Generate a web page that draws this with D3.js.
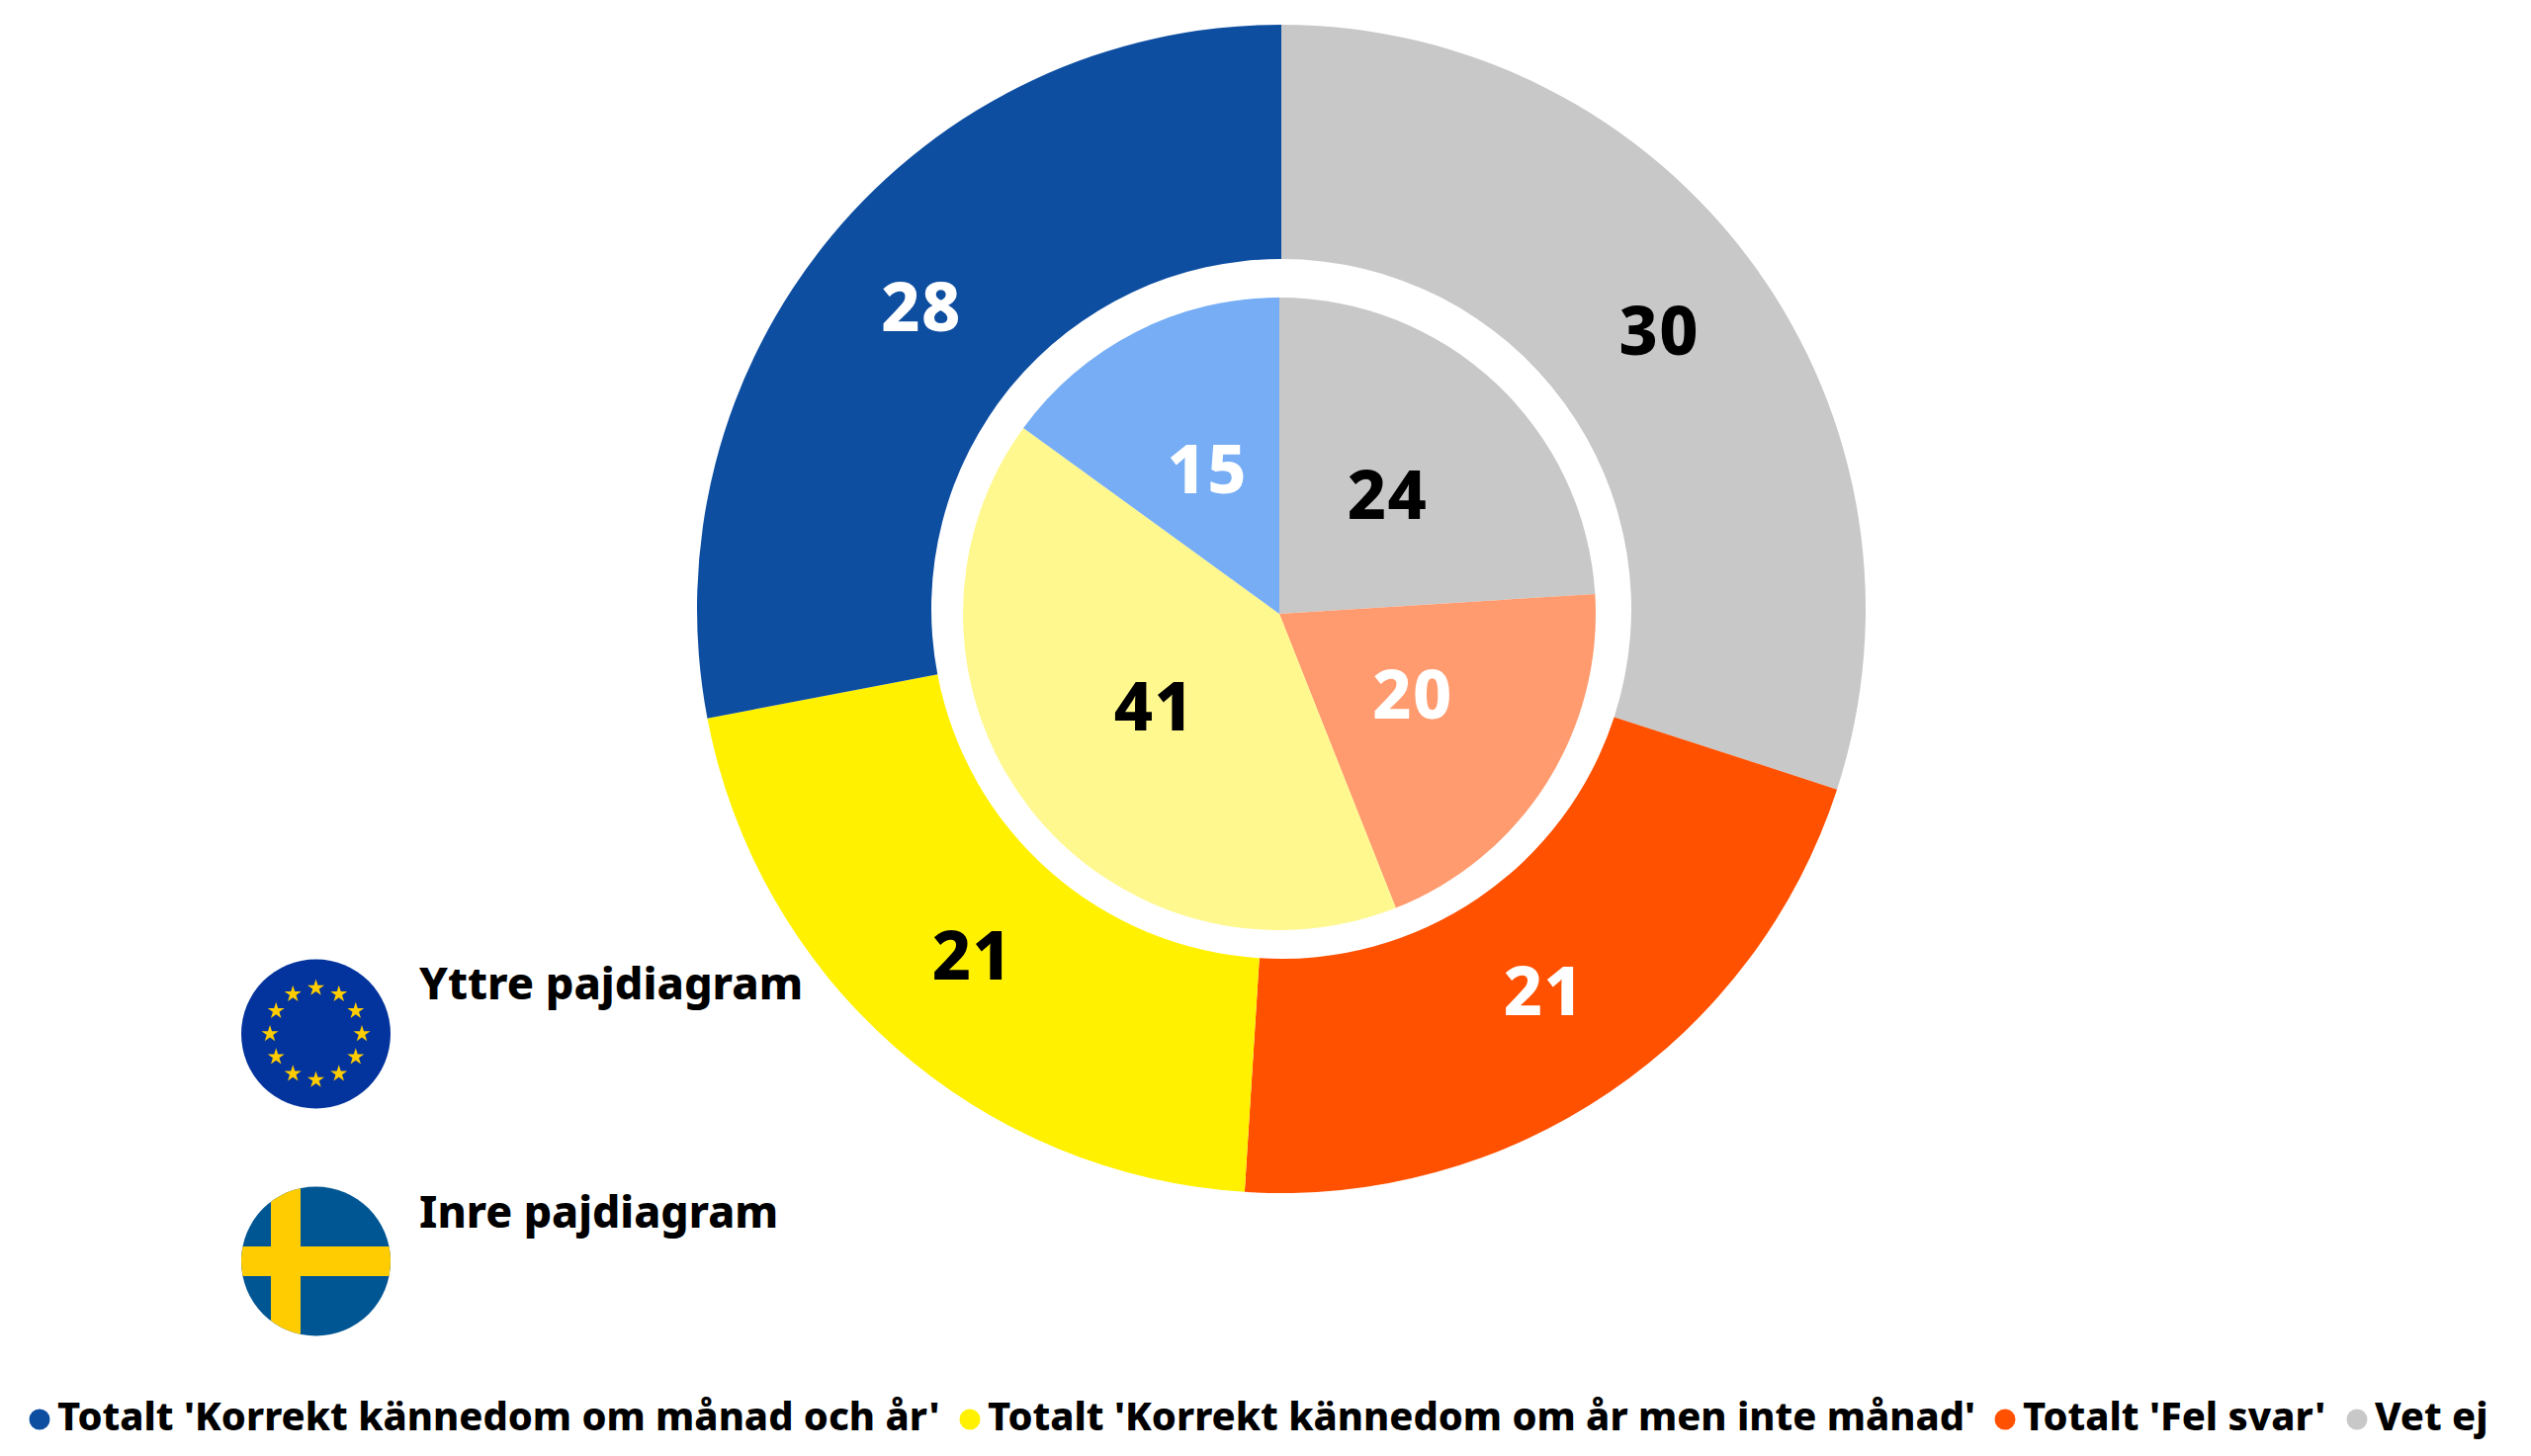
<!DOCTYPE html>
<html><head><meta charset="utf-8">
<script src="https://cdn.jsdelivr.net/npm/d3@7"></script>
<style>html,body{margin:0;background:#fff}svg{display:block}text{font-family:"Noto Sans",sans-serif;font-weight:800}</style>
</head><body><svg id="c" width="2560" height="1473"></svg>
<script>
const categories=["Vet ej","Totalt 'Fel svar'","Totalt 'Korrekt kännedom om år men inte månad'","Totalt 'Korrekt kännedom om månad och år'"];
const outerValues=[30,21,21,28];
const innerValues=[24,20,41,15];
const outerColors=["#c8c8c8","#ff5100","#fff100","#0d4ea1"];
const innerColors=["#c8c8c8","#ff9b6e","#fff88f","#76adf5"];
const outerLabelColors=["#000","#fff","#000","#fff"];
const innerLabelColors=["#000","#fff","#000","#fff"];
const legendOrder=[3,2,1,0];
const legendDotX=[40,981,2028,2384];
const svg=d3.select("#c");
const pie=d3.pie().sort(null);
function ring(values,colors,labelColors,cx,cy,r0,r1,fs){
  const g=svg.append("g").attr("transform",`translate(${cx},${cy})`);
  const arc=d3.arc().innerRadius(r0).outerRadius(r1);
  const arcs=pie(values);
  g.selectAll("path").data(arcs).join("path").attr("d",arc).attr("fill",(d,i)=>colors[i]);
  g.selectAll("text").data(arcs).join("text").attr("transform",d=>`translate(${arc.centroid(d)})`)
   .attr("text-anchor","middle").attr("dy","0.3em").attr("letter-spacing",1.5).attr("font-size",fs).attr("fill",(d,i)=>labelColors[i]).text(d=>d.value);
}
ring(outerValues,outerColors,outerLabelColors,1296,616,354,591,68);
ring(innerValues,innerColors,innerLabelColors,1294,621,0,320,68);
const defs=svg.append("defs");
[["eu",1046],["se",1276]].forEach(([id,cy])=>defs.append("clipPath").attr("id",id).append("circle").attr("cx",319.5).attr("cy",cy).attr("r",75.5));
const eu=svg.append("g").attr("clip-path","url(#eu)");
eu.append("rect").attr("x",244).attr("y",970).attr("width",152).attr("height",152).attr("fill","#03339c");
const starPath=d3.symbol().type(d3.symbolStar).size(90)();
eu.selectAll("path").data(d3.range(12)).join("path").attr("d",starPath).attr("fill","#ffcc00")
  .attr("transform",i=>`translate(${319.5+46.5*Math.sin(i*Math.PI/6)},${1046-46.5*Math.cos(i*Math.PI/6)})`);
const se=svg.append("g").attr("clip-path","url(#se)");
se.append("rect").attr("x",244).attr("y",1200).attr("width",152).attr("height",152).attr("fill","#005593");
se.append("rect").attr("x",274).attr("y",1200).attr("width",30).attr("height",152).attr("fill","#fecc00");
se.append("rect").attr("x",244).attr("y",1261).attr("width",152).attr("height",30).attr("fill","#fecc00");
svg.append("text").attr("x",424).attr("y",1011).attr("font-size",45).text("Yttre pajdiagram");
svg.append("text").attr("x",424).attr("y",1242).attr("font-size",44.5).text("Inre pajdiagram");
const leg=svg.append("g");
legendOrder.forEach((c,i)=>{
  leg.append("circle").attr("cx",legendDotX[i]).attr("cy",1436).attr("r",10.5).attr("fill",outerColors[c]);
  leg.append("text").attr("x",legendDotX[i]+18).attr("y",1447).attr("font-size",39.8).text(categories[c]);
});
</script></body></html>
